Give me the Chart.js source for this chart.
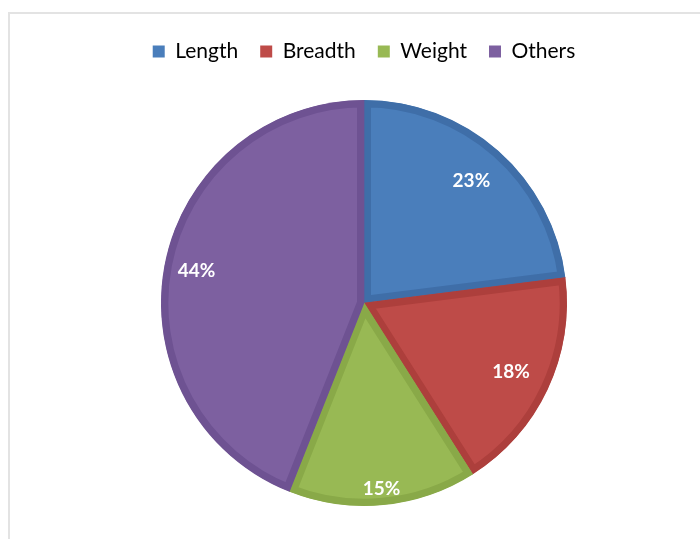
<!DOCTYPE html>
<html>
<head>
<meta charset="utf-8">
<script src="https://cdn.jsdelivr.net/npm/chart.js@4"></script>
<style>
  html, body { margin: 0; padding: 0; background: #fff; }
  #wrap { position: relative; width: 700px; height: 539px; }
  #frame {
    position: absolute; left: 8px; top: 12px; right: 0; bottom: 0;
    border-top: 2px solid #e3e3e3; border-left: 2px solid #e3e3e3;
  }
  canvas { position: absolute; left: 0; top: 0; }
</style>
</head>
<body>
<div id="wrap">
  <div id="frame"></div>
  <canvas id="pie" width="700" height="539"></canvas>
</div>
<script>
// ----------------------------
// データ
// ----------------------------

const categories = ["Length", "Breadth", "Weight", "Others"];
const shares = [23, 18, 15, 44];

const fillColors = ["#4a7ebb", "#be4b48", "#98b954", "#7d60a0"];
const edgeColors = ["#3f6ea8", "#ad3f3c", "#89a948", "#6e5292"];

// label distance from centre, as a share of the radius
const labelReach = [0.8, 0.8, 0.92, 0.84];

// ----------------------------
// 凡例の下に余白
// ----------------------------

const legendGap = {
  id: "legendGap",
  beforeInit(chart) {
    const orig = chart.legend.fit;
    chart.legend.fit = function () {
      orig.call(this);
      this.height += 28;
    };
  }
};

// ----------------------------
// パーセント表示
// ----------------------------

const percentLabels = {
  id: "percentLabels",
  afterDatasetsDraw(chart) {
    const ctx = chart.ctx;
    const meta = chart.getDatasetMeta(0);
    const data = chart.data.datasets[0].data;
    const total = data.reduce((a, b) => a + b, 0);
    ctx.save();
    ctx.fillStyle = "#ffffff";
    ctx.font = "bold 19px Lato, 'Open Sans', sans-serif";
    ctx.textAlign = "center";
    ctx.textBaseline = "middle";
    meta.data.forEach((arc, i) => {
      const p = arc.getProps(["x", "y", "startAngle", "endAngle", "outerRadius"], true);
      const mid = (p.startAngle + p.endAngle) / 2;
      const r = p.outerRadius * labelReach[i];
      const txt = Math.round(data[i] / total * 100) + "%";
      ctx.fillText(txt, p.x + Math.cos(mid) * r, p.y + Math.sin(mid) * r);
    });
    ctx.restore();
  }
};

// ----------------------------
// 円グラフ
// ----------------------------

new Chart(document.getElementById("pie"), {
  type: "pie",
  data: {
    labels: categories,
    datasets: [{
      data: shares,
      backgroundColor: fillColors,
      borderColor: edgeColors,
      borderWidth: 7,
      borderAlign: "inner"
    }]
  },
  options: {
    responsive: false,
    animation: false,
    layout: { padding: { top: 19, left: 28, right: 0, bottom: 33 } },
    plugins: {
      legend: {
        position: "top",
        labels: {
          boxWidth: 12,
          boxHeight: 12,
          padding: 22,
          color: "#595959",
          font: { family: "Lato, 'Open Sans', sans-serif", size: 21 },
          generateLabels(chart) {
            const ds = chart.data.datasets[0];
            return chart.data.labels.map((l, i) => ({
              text: l,
              fillStyle: ds.backgroundColor[i],
              strokeStyle: ds.backgroundColor[i],
              lineWidth: 0,
              index: i
            }));
          }
        }
      },
      tooltip: { enabled: false }
    }
  },
  plugins: [legendGap, percentLabels]
});
</script>
</body>
</html>
